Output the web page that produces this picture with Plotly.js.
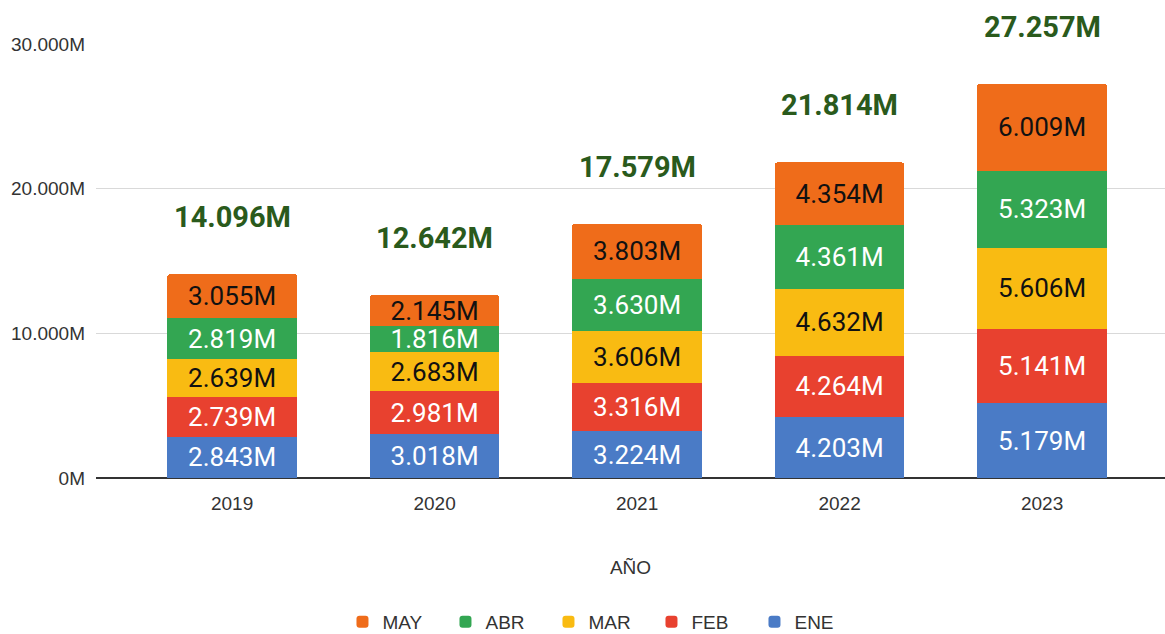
<!DOCTYPE html>
<html><head><meta charset="utf-8">
<script src="https://cdn.plot.ly/plotly-3.0.1.min.js"></script>
<style>html,body{margin:0;padding:0;background:#fff}#chart{width:1165px;height:634px}</style>
</head><body><div id="chart"></div>
<script>
const years = ['2019','2020','2021','2022','2023'];
const ene = [2843, 3018, 3224, 4203, 5179];
const feb = [2739, 2981, 3316, 4264, 5141];
const mar = [2639, 2683, 3606, 4632, 5606];
const abr = [2819, 1816, 3630, 4361, 5323];
const may = [3055, 2145, 3803, 4354, 6009];
const totals = [14096, 12642, 17579, 21814, 27257];
const totalLabels = ['14.096M', '12.642M', '17.579M', '21.814M', '27.257M'];
const yTicks = [0, 10000, 20000, 30000];
const yTickLabels = ['0M', '10.000M', '20.000M', '30.000M'];

const series = [
  {name:'ENE', y:ene, color:'#4a7bc6', tc:'#ffffff'},
  {name:'FEB', y:feb, color:'#e8412f', tc:'#ffffff'},
  {name:'MAR', y:mar, color:'#f9bb12', tc:'#111111'},
  {name:'ABR', y:abr, color:'#33a652', tc:'#ffffff'},
  {name:'MAY', y:may, color:'#ef6c1a', tc:'#111111'}
];

const traces = series.map(s => ({
  type:'bar', name:s.name, x:years, y:s.y,
  marker:{color:s.color, line:{width:0}},
  texttemplate:'%{y:,.0f}M', textposition:'inside', insidetextanchor:'middle',
  textangle:0, constraintext:'none',
  insidetextfont:{family:'Roboto', size:26, color:s.tc},
  hoverinfo:'skip'
}));

const annotations = years.map((yr, i) => ({
  x:i, y:totals[i], xref:'x', yref:'y',
  text:'<b>' + totalLabels[i] + '</b>',
  showarrow:false, yanchor:'bottom', yshift:38,
  font:{family:'Roboto', size:29, color:'#2a5a1c'}
}));

const layout = {
  width:1165, height:634,
  separators:',.',
  barmode:'stack', bargap:0.36, barcornerradius:3,
  paper_bgcolor:'#ffffff', plot_bgcolor:'#ffffff',
  margin:{l:96, r:0, t:44, b:156},
  showlegend:true,
  legend:{orientation:'h', traceorder:'reversed', xref:'container', yref:'container',
    x:0.515, xanchor:'center', y:0.019, yanchor:'middle',
    font:{family:'Liberation Sans', size:19, color:'#333'}, entrywidth:58},
  xaxis:{type:'category', range:[-0.672, 4.607], showgrid:false, zeroline:false, showline:false,
    ticks:'', ticklabelstandoff:12, tickfont:{family:'Liberation Sans', size:19, color:'#333'},
    title:{text:'AÑO', font:{family:'Liberation Sans', size:19, color:'#333'}, standoff:47}},
  yaxis:{range:[0, 30000], tickmode:'array', tickvals:yTicks, ticktext:yTickLabels,
    showgrid:true, gridcolor:'#d9d9d9', gridwidth:1.5,
    zeroline:true, zerolinecolor:'#333', zerolinewidth:2,
    ticks:'', ticklabelstandoff:10,
    tickfont:{family:'Liberation Sans', size:19, color:'#333'}},
  annotations:annotations
};

Plotly.newPlot('chart', traces, layout, {displayModeBar:false, staticPlot:true});
</script></body></html>
